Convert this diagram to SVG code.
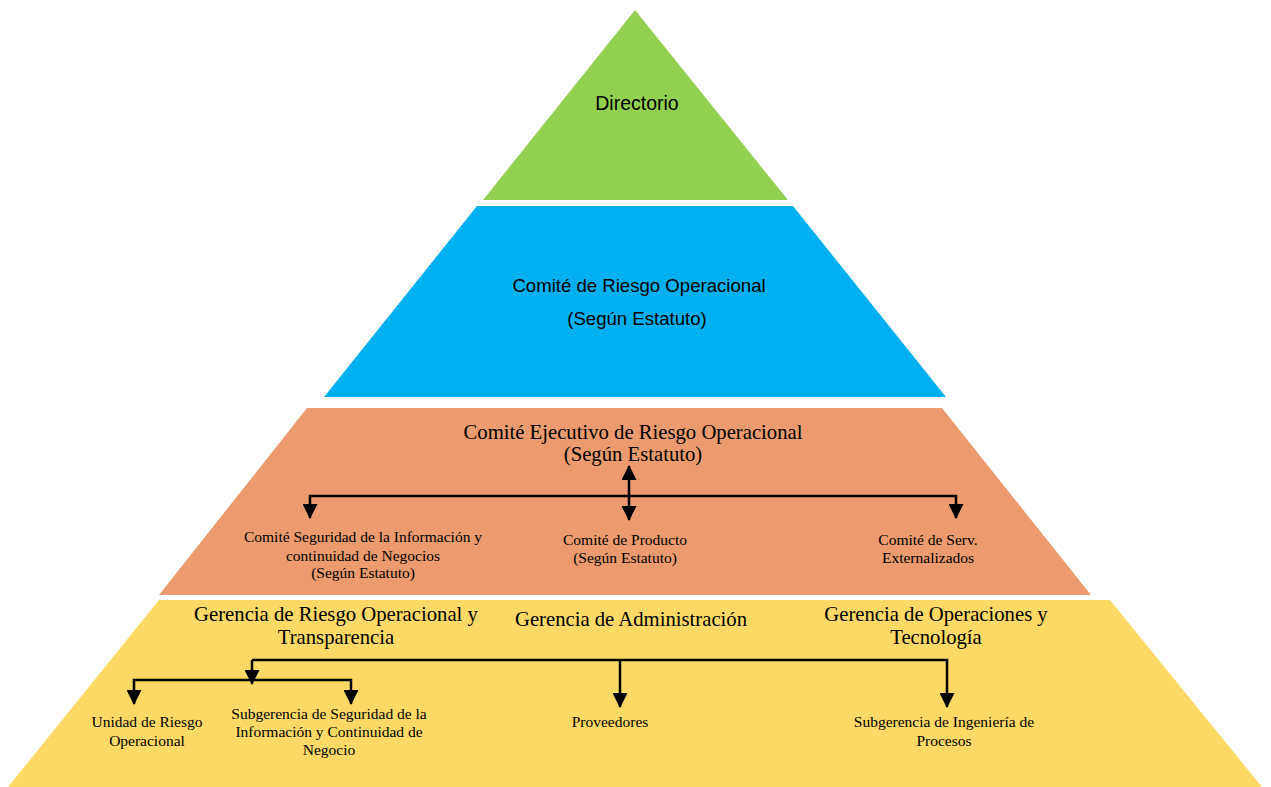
<svg xmlns="http://www.w3.org/2000/svg" width="1271" height="787" viewBox="0 0 1271 787">
  <style>
    .sans { font-family: "Liberation Sans", Arial, sans-serif; fill: #000; text-anchor: middle; }
    .serif { font-family: "Liberation Serif", "Times New Roman", serif; fill: #000; text-anchor: middle; }
    .head { font-size: 20.7px; }
    .small { font-size: 15.5px; }
    .conn { fill: none; stroke: #000; stroke-width: 2.5; }
  </style>
  <defs>
    <marker id="arrow" markerUnits="userSpaceOnUse" markerWidth="15" markerHeight="15" viewBox="0 0 15 15" refX="14" refY="7.5" orient="auto-start-reverse">
      <path d="M0,0 L15,7.5 L0,15 Z" fill="#000"/>
    </marker>
  </defs>
  <rect width="1271" height="787" fill="#fff"/>

  <!-- level 1 -->
  <g id="directorio">
    <polygon points="635,10 788,200 483,200" fill="#92D050"/>
    <text class="sans" x="637" y="110" font-size="19.5">Directorio</text>
  </g>

  <!-- level 2 -->
  <g id="comite-riesgo">
    <polygon points="477,206 793,206 946,397 324,397" fill="#00B0F0"/>
    <text class="sans" x="639" y="292" font-size="18.6">Comité de Riesgo Operacional</text>
    <text class="sans" x="637" y="325" font-size="18.6">(Según Estatuto)</text>
  </g>

  <!-- level 3 -->
  <g id="comite-ejecutivo">
    <polygon points="307,408 942,408 1091,595 159,595" fill="#EB9B6D"/>
    <text class="serif head" x="633" y="439">Comité Ejecutivo de Riesgo Operacional</text>
    <text class="serif head" x="633" y="461">(Según Estatuto)</text>
  </g>
  <g id="comite-seguridad">
    <text class="serif small" x="363" y="542">Comité Seguridad de la Información y</text>
    <text class="serif small" x="363" y="561">continuidad de Negocios</text>
    <text class="serif small" x="363" y="578">(Según Estatuto)</text>
  </g>
  <g id="comite-producto">
    <text class="serif small" x="625" y="545">Comité de Producto</text>
    <text class="serif small" x="625" y="563">(Según Estatuto)</text>
  </g>
  <g id="comite-serv">
    <text class="serif small" x="928" y="545">Comité de Serv.</text>
    <text class="serif small" x="928" y="563">Externalizados</text>
  </g>

  <!-- level 4 -->
  <g id="base">
    <polygon points="159,600 1110,600 1262,787 8,787" fill="#FED966"/>
  </g>
  <g id="gerencia-riesgo">
    <text class="serif head" x="336" y="621">Gerencia de Riesgo Operacional y</text>
    <text class="serif head" x="336" y="644">Transparencia</text>
  </g>
  <g id="gerencia-admin">
    <text class="serif head" x="631" y="626">Gerencia de Administración</text>
  </g>
  <g id="gerencia-operaciones">
    <text class="serif head" x="936" y="621">Gerencia de Operaciones y</text>
    <text class="serif head" x="936" y="644">Tecnología</text>
  </g>
  <g id="unidad-riesgo">
    <text class="serif small" x="147" y="727">Unidad de Riesgo</text>
    <text class="serif small" x="147" y="746">Operacional</text>
  </g>
  <g id="subgerencia-seguridad">
    <text class="serif small" x="329" y="719">Subgerencia de Seguridad de la</text>
    <text class="serif small" x="329" y="737">Información y Continuidad de</text>
    <text class="serif small" x="329" y="755">Negocio</text>
  </g>
  <g id="proveedores">
    <text class="serif small" x="610" y="727">Proveedores</text>
  </g>
  <g id="subgerencia-ingenieria">
    <text class="serif small" x="944" y="727">Subgerencia de Ingeniería de</text>
    <text class="serif small" x="944" y="746">Procesos</text>
  </g>

  <!-- connectors -->
  <g id="connectors">
    <!-- executive committee to sub-committees -->
    <path class="conn" d="M629,496 V466" marker-end="url(#arrow)"/>
    <path class="conn" d="M629,496 V520" marker-end="url(#arrow)"/>
    <path class="conn" d="M310,518 V496 H956 V518" marker-start="url(#arrow)" marker-end="url(#arrow)"/>
    <!-- managements to units -->
    <path class="conn" d="M252,660 H947 V707" marker-end="url(#arrow)"/>
    <path class="conn" d="M620,660 V707" marker-end="url(#arrow)"/>
    <path class="conn" d="M252,660 V684" marker-end="url(#arrow)"/>
    <path class="conn" d="M134,704 V680 H351 V704" marker-start="url(#arrow)" marker-end="url(#arrow)"/>
  </g>
</svg>
